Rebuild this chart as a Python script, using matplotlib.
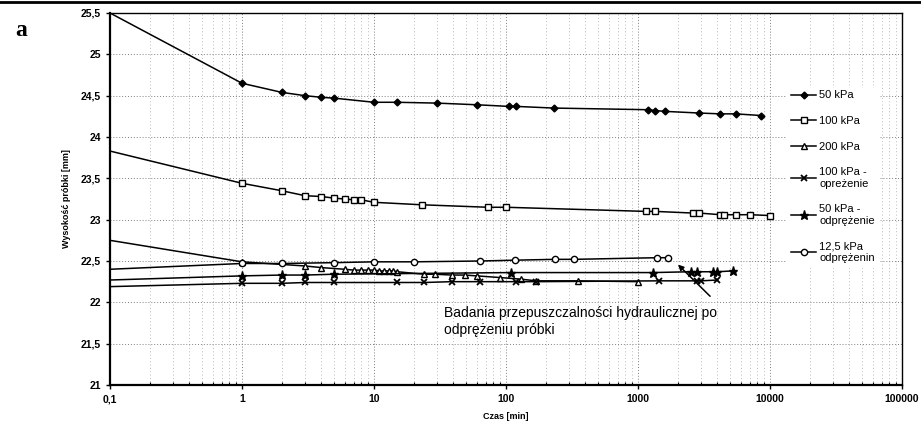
import numpy as np
import matplotlib.pyplot as plt
from matplotlib.ticker import FixedLocator, FuncFormatter, LogLocator, NullFormatter
from matplotlib.lines import Line2D

plt.rcParams['font.family'] = ['Liberation Sans', 'DejaVu Sans']

# Dane: czas [min] i wysokość próbki [mm]
t_50 = [0.1, 1, 2, 3, 4, 5, 10, 15, 30, 60, 105, 120, 230, 1200, 1350, 1600, 2900, 4200, 5500, 8500]
h_50 = [25.5, 24.65, 24.54, 24.50, 24.48, 24.47, 24.42, 24.42, 24.41, 24.39, 24.37, 24.37, 24.35,
        24.33, 24.32, 24.31, 24.29, 24.28, 24.28, 24.26]

t_100 = [0.1, 1, 2, 3, 4, 5, 6, 7, 8, 10, 23, 73, 100, 1150, 1350, 2600, 2900, 4200, 4500, 5500, 7000, 10000]
h_100 = [23.83, 23.44, 23.35, 23.29, 23.28, 23.26, 23.25, 23.24, 23.24, 23.21, 23.18, 23.15, 23.15,
         23.10, 23.10, 23.08, 23.08, 23.06, 23.06, 23.06, 23.06, 23.05]

t_200 = [0.1, 1, 3, 4, 6, 7, 8, 9, 10, 11, 12, 13, 14, 15, 24, 29, 39, 49, 60, 90, 130, 170, 350, 1000]
h_200 = [22.75, 22.49, 22.44, 22.42, 22.40, 22.39, 22.39, 22.39, 22.39, 22.38, 22.38, 22.38, 22.38,
         22.37, 22.34, 22.34, 22.33, 22.33, 22.32, 22.30, 22.28, 22.26, 22.26, 22.25]

t_100o = [0.1, 1, 2, 3, 5, 15, 24, 39, 64, 120, 170, 1450, 2800, 3000, 4000]
h_100o = [22.19, 22.23, 22.23, 22.24, 22.24, 22.24, 22.24, 22.25, 22.25, 22.25, 22.25, 22.26,
          22.26, 22.26, 22.27]

t_50o = [0.1, 1, 2, 3, 5, 110, 1300, 2500, 2800, 3700, 4000, 5200]
h_50o = [22.27, 22.32, 22.33, 22.33, 22.34, 22.36, 22.36, 22.37, 22.37, 22.37, 22.37, 22.38]

t_12o = [0.1, 1, 2, 5, 10, 20, 64, 117, 235, 330, 1400, 1700]
h_12o = [22.40, 22.47, 22.47, 22.48, 22.49, 22.49, 22.50, 22.51, 22.52, 22.52, 22.54, 22.54]

y_ticks = [21, 21.5, 22, 22.5, 23, 23.5, 24, 24.5, 25, 25.5]
x_ticks = [0.1, 1, 10, 100, 1000, 10000, 100000]
x_labels = ['0,1', '1', '10', '100', '1000', '10000', '100000']

fig = plt.figure(figsize=(9.21, 4.21), dpi=100)
ax = fig.add_axes([110/921, 36/421, 792/921, 372/421])

serie = [
    (t_50, h_50, '50 kPa', dict(marker='D', ms=3.5, mfc='black')),
    (t_100, h_100, '100 kPa', dict(marker='s', ms=5, mfc='white')),
    (t_200, h_200, '200 kPa', dict(marker='^', ms=4.5, mfc='white')),
    (t_100o, h_100o, '100 kPa -\nopreżenie', dict(marker='x', ms=5, mew=1.3)),
    (t_50o, h_50o, '50 kPa -\nodprężenie', dict(marker='*', ms=6.5, mfc='black')),
    (t_12o, h_12o, '12,5 kPa\nodprężenin', dict(marker='o', ms=4.5, mfc='white')),
]
for t, h, lab, styl in serie:
    ax.plot(t, h, color='black', lw=1.1, mec='black', label=lab,
            markevery=list(range(1, len(t))), **styl)

ax.set_xscale('log')
ax.set_xlim(0.1, 100000)
ax.set_ylim(21, 25.5)
ax.xaxis.set_major_locator(FixedLocator(x_ticks))
ax.set_xticklabels(x_labels)
ax.xaxis.set_minor_locator(LogLocator(base=10, subs=np.arange(2, 10), numticks=20))
ax.xaxis.set_minor_formatter(NullFormatter())
ax.yaxis.set_major_locator(FixedLocator(y_ticks))
ax.yaxis.set_major_formatter(FuncFormatter(lambda v, p: ('%g' % v).replace('.', ',')))

ax.grid(True, which='major', color='0.5', ls=(0, (1, 2)), lw=0.7)
ax.grid(True, which='minor', axis='x', color='0.65', ls=(0, (1, 3)), lw=0.6)
ax.tick_params(axis='both', which='major', labelsize=7.5, direction='out', length=3, width=1)
ax.tick_params(axis='x', which='minor', direction='in', length=2.5, width=0.8)
for lbl in ax.get_xticklabels() + ax.get_yticklabels():
    lbl.set_fontweight('bold')

for s in ['left', 'bottom']:
    ax.spines[s].set_linewidth(1.6)
for s in ['top', 'right']:
    ax.spines[s].set_linewidth(1.0)

ax.set_xlabel('Czas [min]', fontsize=6.5, fontweight='bold', labelpad=6)
ax.set_ylabel('Wysokość próbki [mm]', fontsize=6.5, fontweight='bold', labelpad=7)

leg = ax.legend(loc='upper left', bbox_to_anchor=(787/921, 1 - 86/421),
                bbox_transform=fig.transFigure, fontsize=8, frameon=True,
                labelspacing=1.4, handlelength=2.2, handletextpad=0.3,
                borderaxespad=0, fancybox=False)
leg.get_frame().set_edgecolor('white')
leg.get_frame().set_facecolor('white')
leg.get_frame().set_alpha(1)

ax.annotate('', xy=(1940, 22.48), xytext=(3640, 22.05),
            arrowprops=dict(arrowstyle='-|>', color='black', lw=1.1, mutation_scale=8))
ax.text(34, 21.77, 'Badania przepuszczalności hydraulicznej po\nodprężeniu próbki',
        fontsize=10, va='center', ha='left', linespacing=1.25)

fig.text(15/921, 1 - 30/421, 'a', fontsize=17, fontweight='bold',
         family=['Liberation Serif', 'DejaVu Serif'], va='center', ha='left')
fig.add_artist(Line2D([0, 1], [0.996, 0.996], color='black', lw=2, transform=fig.transFigure))

fig.savefig('out.png', dpi=100)
